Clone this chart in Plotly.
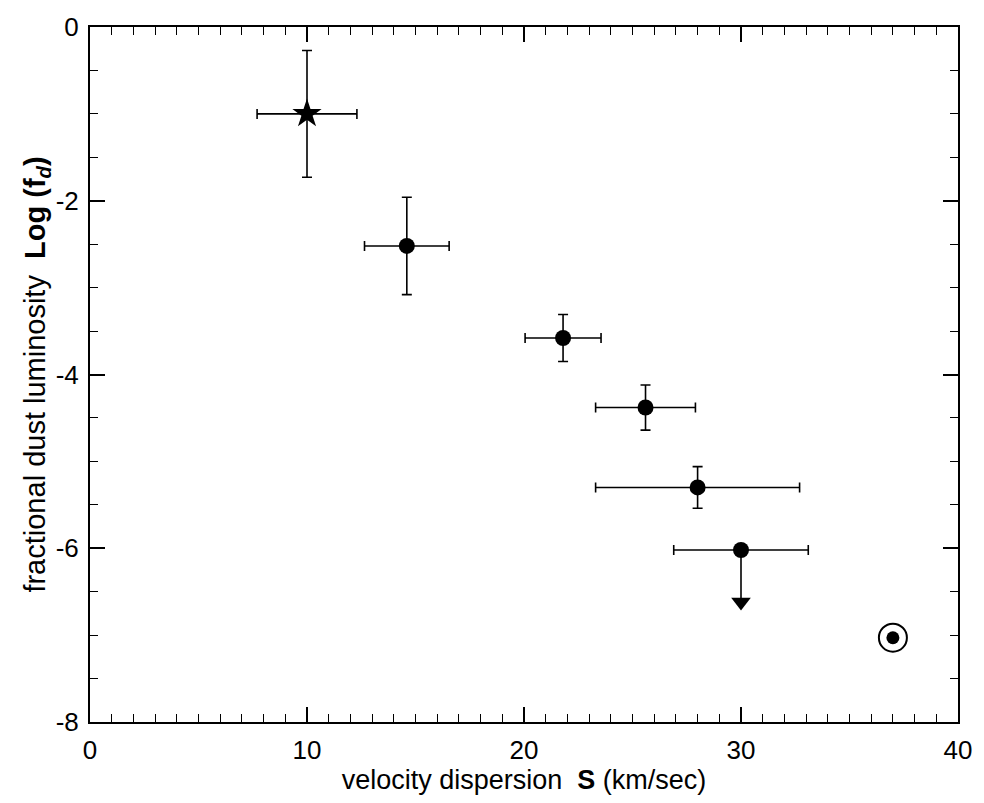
import plotly.graph_objects as go

# Data
star_S = [10.0]
star_logf = [-1.0]
star_S_err = [2.3]
star_logf_err = [0.73]

pts_S = [14.6, 21.8, 25.6, 28.0]
pts_logf = [-2.52, -3.58, -4.38, -5.30]
pts_S_err = [1.95, 1.75, 2.3, 4.7]
pts_logf_err = [0.56, 0.27, 0.26, 0.24]

lim_S = [30.0]
lim_logf = [-6.02]
lim_S_err = [3.1]
lim_arrow_end = [-6.62]

sun_S = [37.0]
sun_logf = [-7.03]

x_tickvals = [0, 10, 20, 30, 40]
x_ticktext = ["0", "10", "20", "30", "40"]
y_tickvals = [0, -2, -4, -6, -8]
y_ticktext = ["0", "-2", "-4", "-6", "-8"]

FONT = "Liberation Sans Narrow, Arial Narrow, Liberation Sans, Arial, sans-serif"

fig = go.Figure()

ebar = dict(type="data", color="black", thickness=1.6, width=5)

# star point
fig.add_trace(go.Scatter(
    x=star_S, y=star_logf, mode="markers",
    marker=dict(symbol="star", size=22, color="black"),
    error_x=dict(array=star_S_err, **ebar),
    error_y=dict(array=star_logf_err, **ebar),
    showlegend=False))

# filled circles
fig.add_trace(go.Scatter(
    x=pts_S, y=pts_logf, mode="markers",
    marker=dict(symbol="circle", size=16, color="black"),
    error_x=dict(array=pts_S_err, **ebar),
    error_y=dict(array=pts_logf_err, **ebar),
    showlegend=False))

# upper limit point with arrow
fig.add_trace(go.Scatter(
    x=[lim_S[0], lim_S[0]], y=[lim_logf[0], lim_arrow_end[0]], mode="lines",
    line=dict(color="black", width=1.6), showlegend=False))
fig.add_trace(go.Scatter(
    x=lim_S, y=lim_arrow_end, mode="markers",
    marker=dict(symbol="triangle-down", size=17, color="black"),
    showlegend=False))
fig.add_trace(go.Scatter(
    x=lim_S, y=lim_logf, mode="markers",
    marker=dict(symbol="circle", size=16, color="black"),
    error_x=dict(array=lim_S_err, **ebar),
    showlegend=False))

# Sun symbol
fig.add_trace(go.Scatter(
    x=sun_S, y=sun_logf, mode="markers",
    marker=dict(symbol="circle-open", size=28, color="black", line=dict(width=2, color="black")),
    showlegend=False))
fig.add_trace(go.Scatter(
    x=sun_S, y=sun_logf, mode="markers",
    marker=dict(symbol="circle", size=13, color="black"),
    showlegend=False))

axis_common = dict(
    showline=True, linecolor="black", linewidth=2, mirror="ticks",
    ticks="inside", ticklen=15, tickwidth=1.6, tickcolor="black",
    showgrid=False, zeroline=False,
    tickfont=dict(family=FONT, size=26, color="black"),
    ticklabeloverflow="allow",
)

fig.update_layout(
    width=984, height=803,
    margin=dict(l=90, r=15, t=24, b=81),
    paper_bgcolor="white", plot_bgcolor="white",
    font=dict(family=FONT, color="black"),
    xaxis=dict(
        range=[0, 40], tickvals=x_tickvals, ticktext=x_ticktext,
        minor=dict(dtick=1, ticks="inside", ticklen=8, tickwidth=1.3, tickcolor="black", showgrid=False),
        title=dict(text="velocity dispersion  <b>S</b> (km/sec)",
                   font=dict(family=FONT, size=27, color="black"), standoff=4),
        ticklabelstandoff=4,
        **axis_common),
    yaxis=dict(
        range=[-8, 0], tickvals=y_tickvals, ticktext=y_ticktext,
        minor=dict(dtick=0.5, ticks="inside", ticklen=8, tickwidth=1.3, tickcolor="black", showgrid=False),
        title=dict(text="fractional dust luminosity  <b>Log (f<sub><i>d</i></sub>)</b>",
                   font=dict(family=FONT, size=29, color="black"), standoff=2),
        ticklabelstandoff=4,
        **axis_common),
)

fig.write_html("out.html")
